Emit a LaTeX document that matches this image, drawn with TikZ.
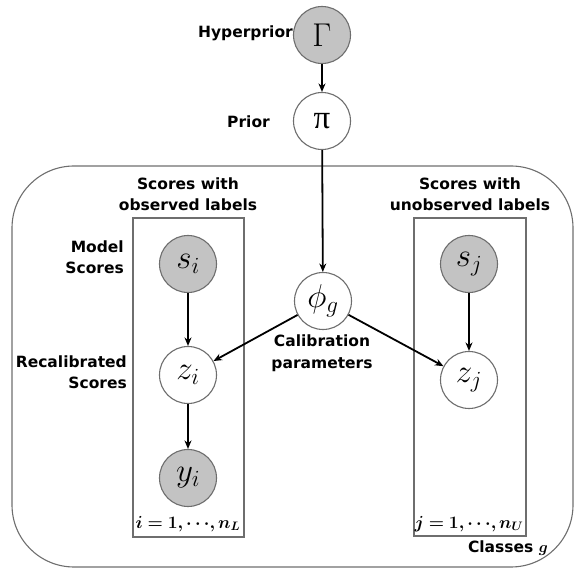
\documentclass[tikz,border=0pt]{standalone}
\usepackage{fix-cm}
\usepackage{amsmath}
\usepackage{bm}
\usepackage{fontspec}
\setmainfont{DejaVu Sans}
\newfontfamily\grk{Liberation Serif}
\usetikzlibrary{arrows.meta}
\definecolor{obsfill}{HTML}{C3C3C3}
\definecolor{edgegray}{HTML}{6E6E6E}
\tikzset{
  var/.style={circle, draw=edgegray, line width=1.1pt, minimum size=57pt, inner sep=0pt, fill=white, font=\fontsize{33}{33}\selectfont},
  obsvar/.style={var, fill=obsfill},
  lbl/.style={font=\bfseries\fontsize{15.5}{21.5}\selectfont, inner sep=0pt},
  idx/.style={font=\bfseries\fontsize{17.5}{20}\selectfont, inner sep=0pt},
  plate/.style={draw=edgegray, line width=1.1pt},
  edgearrow/.style={-{Stealth[length=8.5pt,width=7pt]}, line width=1.8pt, black}
}
\begin{document}
\begin{tikzpicture}[x=1pt,y=-1pt]
\useasboundingbox (0,0) rectangle (574,569);
% outer plate (classes)
\draw[plate, rounded corners=62pt] (12,166) rectangle (573,567);
% inner plates
\draw[plate] (133,218) rectangle (244,537);
\draw[plate] (414,218) rectangle (526,536);
% variables
\node[obsvar] (gam) at (322,35) {$\Gamma$};
\node[var] (pi) at (322,121) {\grk π};
\node[var] (phi) at (323,301) {$\phi_g$};
\node[obsvar] (si) at (188,264) {$s_i$};
\node[var] (zi) at (188,375) {$z_i$};
\node[obsvar] (yi) at (188,478) {$y_i$};
\node[obsvar] (sj) at (469,264) {$s_j$};
\node[var] (zj) at (469,380) {$z_j$};
% labels
\node[lbl, anchor=east] (lhyp) at (293,33) {Hyperprior};
\node[lbl, anchor=east] (lpri) at (270,122) {Prior};
\node[lbl, align=center] (lobs) at (188,194) {Scores with\\observed labels};
\node[lbl, align=center] (lunobs) at (470,194) {Scores with\\unobserved labels};
\node[lbl, align=right, anchor=east] (lmod) at (124,257) {Model\\Scores};
\node[lbl, align=right, anchor=east] (lrec) at (127,372) {Recalibrated\\Scores};
\node[lbl, align=center] (lcal) at (322,353) {Calibration\\parameters};
\node[idx] (li) at (188,524) {$\bm{i=1,\cdots,n_L}$};
\node[idx] (lj) at (469,524) {$\bm{j=1,\cdots,n_U}$};
\node[lbl, anchor=east] (lcls) at (548,548) {Classes $\bm{g}$};
% edges
\draw[edgearrow] (gam) -- (pi);
\draw[edgearrow] (pi) -- (phi);
\draw[edgearrow] (phi) -- (zi);
\draw[edgearrow] (phi) -- (zj);
\draw[edgearrow] (si) -- (zi);
\draw[edgearrow] (zi) -- (yi);
\draw[edgearrow] (sj) -- (zj);
\end{tikzpicture}
\end{document}
